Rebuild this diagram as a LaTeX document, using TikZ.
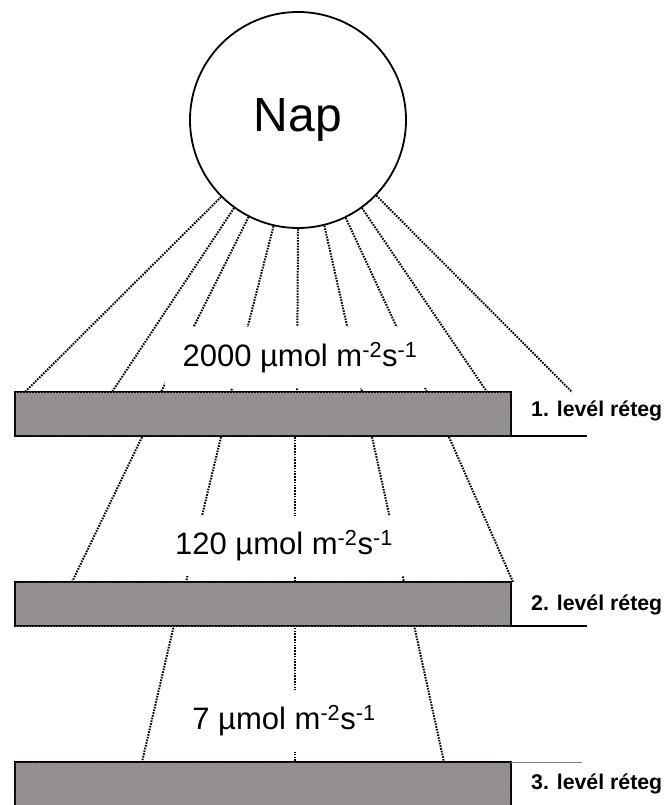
\documentclass[tikz,border=0pt]{standalone}
\usepackage{fontspec}
\setmainfont{Liberation Sans}
\usepackage{tikz}
\usetikzlibrary{calc,patterns}
\definecolor{leafgray}{RGB}{150,145,145}
\tikzset{
    ray/.style={line width=2pt, dash pattern=on 1.6pt off 1.2pt},
    leaf/.style={draw, line width=1.7pt, fill=leafgray, anchor=north west,
        minimum width=496pt, minimum height=44pt, inner sep=0pt, outer sep=0pt,
        postaction={pattern=crosshatch dots, pattern color=black!45}},
    flux/.style={fill=white, inner sep=0pt, font=\fontsize{31}{36}\selectfont},
    layername/.style={anchor=west, inner sep=0pt, font=\bfseries\fontsize{21.3}{26}\selectfont},
}
\begin{document}
\begin{tikzpicture}[x=1pt,y=-1pt]
      \useasboundingbox (0,0) rectangle (664,805);
      \node[circle, draw, line width=1.8pt, minimum size=216pt,
            font=\fontsize{48}{56}\selectfont] (nap) at (298,120) {Nap};
      \foreach \a/\x [count=\i] in {225/25,234/112,243/161,257/231,270/297,284/362,296/427,306/487,316/572}
        {\coordinate (top\i) at (\x,392);
         \draw[ray] (nap.\a) -- (top\i);}
      \foreach \xa/\xb [count=\i] in {142/72,221/186,295/295,372/404,449/513}
        {\coordinate (ma\i) at (\xa,437);
         \coordinate (mb\i) at (\xb,582);
         \draw[ray] (ma\i) -- (mb\i);}
      \foreach \xa/\xb [count=\i] in {174/142,295/295,414/444}
        {\coordinate (la\i) at (\xa,625);
         \coordinate (lb\i) at (\xb,762);
         \draw[ray] (la\i) -- (lb\i);}
      \node[flux, minimum width=270pt, minimum height=61pt] (flux1) at (300,357.5) {2000 µmol m\textsuperscript{-2}s\textsuperscript{-1}};
      \node[flux, minimum width=250pt, minimum height=60pt] (flux2) at (284,546) {120 µmol m\textsuperscript{-2}s\textsuperscript{-1}};
      \node[flux, minimum width=200pt, minimum height=62pt] (flux3) at (284,721) {7 µmol m\textsuperscript{-2}s\textsuperscript{-1}};
      \node[leaf] (leaf1) at (15,392) {};
      \node[leaf] (leaf2) at (15,582) {};
      \node[leaf] (leaf3) at (15,762) {};
      \coordinate (end1) at (587,0);
      \coordinate (end2) at (587,0);
      \coordinate (end3) at (582,0);
      \draw[line width=1.7pt] (leaf1.south east) -- (leaf1.south east -| end1);
      \draw[line width=1.7pt] (leaf2.south east) -- (leaf2.south east -| end2);
      \draw[line width=0.9pt, gray] (leaf3.north east) -- (leaf3.north east -| end3);
      \node[layername] (name1) at (531,411) {1. levél réteg};
      \node[layername] (name2) at (531,605) {2. levél réteg};
      \node[layername] (name3) at (531,784) {3. levél réteg};
\end{tikzpicture}
\end{document}
